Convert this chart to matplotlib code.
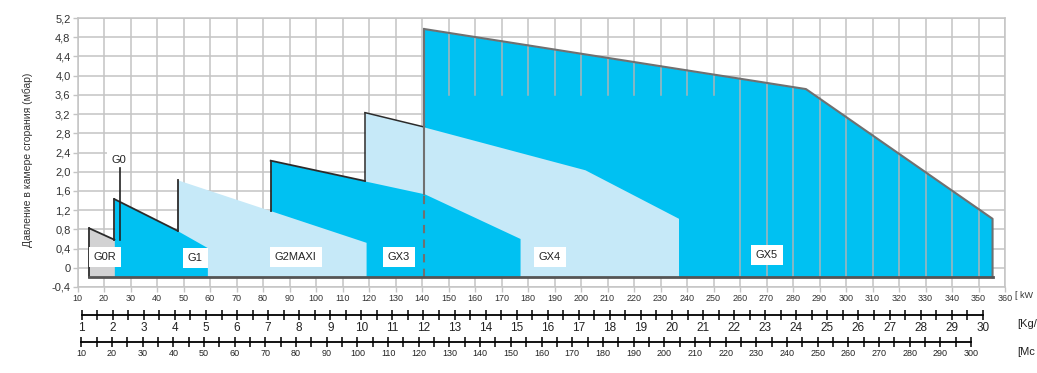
import numpy as np
import matplotlib
matplotlib.use('Agg')
import matplotlib.pyplot as plt
from matplotlib.ticker import FixedLocator

plt.rcParams['font.family'] = ['Liberation Sans', 'DejaVu Sans']

# ---------------- data ----------------
kw_ticks = list(range(10, 361, 10))
y_ticks = [-0.4, 0, 0.4, 0.8, 1.2, 1.6, 2.0, 2.4, 2.8, 3.2, 3.6, 4.0, 4.4, 4.8, 5.2]
y_ticklabels = ['-0,4', '0', '0,4', '0,8', '1,2', '1,6', '2,0', '2,4', '2,8',
                '3,2', '3,6', '4,0', '4,4', '4,8', '5,2']
kg_major = list(range(1, 31))
kg_minor = [v + 0.5 for v in range(1, 30)]
mc_major = list(range(10, 301, 10))
mc_minor = list(range(15, 300, 10))

baseline = -0.2

g0r_x = [14.5, 24.5]
g0r_y = [0.82, 0.57]
g0_x = [23.9, 47.8, 59.0]
g0_y = [1.43, 0.77, 0.42]
g1_x = [47.8, 118.9]
g1_y = [1.83, 0.53]
g2_x = [82.9, 140.9, 177.0]
g2_y = [2.23, 1.54, 0.61]
gx3_x = [118.5, 140.9, 201.5, 236.8]
gx3_y = [3.23, 2.93, 2.04, 1.03]
gx5_x = [140.9, 284.9, 355.3]
gx5_y = [4.97, 3.72, 1.02]

labels = ['G0R', 'G1', 'G2MAXI', 'GX3', 'GX4', 'GX5']
label_x = [20.4, 54.4, 92.4, 131.3, 188.2, 270.2]
label_y = [0.22, 0.21, 0.22, 0.22, 0.22, 0.26]

# grid lines that show through the GX5 field
gx5_grid_partial = list(range(150, 251, 10))
gx5_grid_partial_from = 3.6
gx5_grid_full = list(range(260, 351, 10))

BLUE = '#00c1f2'
LIGHT = '#c6e9f8'
GREY = '#d2d2d3'
GRID = '#c4c4c4'

# ---------------- figure ----------------
fig = plt.figure(figsize=(10.37, 3.73), dpi=100)
L, R = 77.5 / 1037, 1005 / 1037
B, T = 1 - 287 / 373, 1 - 18 / 373
ax = fig.add_axes([L, B, R - L, T - B])
ax.set_xlim(10, 360)
ax.set_ylim(-0.4, 5.2)

ax.set_xticks(kw_ticks)
ax.set_xticklabels([str(v) for v in kw_ticks], fontsize=6.5, color='#333333')
ax.set_yticks(y_ticks)
ax.set_yticklabels(y_ticklabels, fontsize=8, color='#333333')
ax.tick_params(axis='both', length=3.5, width=1.0, color=GRID, pad=1.5)
ax.grid(True, color=GRID, lw=1.1, zorder=0)
ax.set_axisbelow(True)
for s in ax.spines.values():
    s.set_color(GRID)
    s.set_linewidth(1.1)

# fills (back to front)
order = [
    (gx5_x, gx5_y, BLUE),
    (gx3_x, gx3_y, LIGHT),
    (g2_x, g2_y, BLUE),
    (g1_x, g1_y, LIGHT),
    (g0r_x, g0r_y, GREY),
    (g0_x, g0_y, BLUE),
]
for i, (xs, ys, c) in enumerate(order):
    ax.fill_between(xs, baseline, ys, color=c, lw=0, zorder=2 + i)

# grid lines through GX5
for gx in gx5_grid_partial:
    top = np.interp(gx, gx5_x, gx5_y)
    ax.plot([gx, gx], [gx5_grid_partial_from, top], color='#a9b4b9', lw=1.1, zorder=2.5)
for gx in gx5_grid_full:
    top = np.interp(gx, gx5_x, gx5_y)
    ax.plot([gx, gx], [baseline, top], color='#a9b4b9', lw=1.1, zorder=2.5)

# outlines (visible envelope)
EDGE = '#2b2b2b'
Z = 20
# G0R
ax.plot([g0r_x[0], g0r_x[0]], [baseline, g0r_y[0]], color=EDGE, lw=1.3, zorder=Z)
ax.plot([g0r_x[0], g0_x[0]], [g0r_y[0], np.interp(g0_x[0], g0r_x, g0r_y)],
        color=EDGE, lw=1.3, zorder=Z)
# G0
ax.plot([g0_x[0], g0_x[0]], [np.interp(g0_x[0], g0r_x, g0r_y), g0_y[0]], color=EDGE, lw=1.3, zorder=Z)
ax.plot(g0_x[:2], g0_y[:2], color=EDGE, lw=1.3, zorder=Z)
# G1 left edge
ax.plot([g1_x[0], g1_x[0]], [np.interp(g1_x[0], g0_x, g0_y), g1_y[0]], color=EDGE, lw=1.3, zorder=Z)
# G2
ax.plot([g2_x[0], g2_x[0]], [np.interp(g2_x[0], g1_x, g1_y), g2_y[0]], color=EDGE, lw=1.3, zorder=Z)
ax.plot([g2_x[0], gx3_x[0]], [g2_y[0], np.interp(gx3_x[0], g2_x, g2_y)], color=EDGE, lw=1.3, zorder=Z)
# GX3
ax.plot([gx3_x[0], gx3_x[0]], [np.interp(gx3_x[0], g2_x, g2_y), gx3_y[0]], color=EDGE, lw=1.1, zorder=Z)
ax.plot([gx3_x[0], gx5_x[0]], [gx3_y[0], np.interp(gx5_x[0], gx3_x, gx3_y)], color=EDGE, lw=1.1, zorder=Z)
# GX5
GX5E = '#707070'
y_split = np.interp(gx5_x[0], g2_x, g2_y)
ax.plot([gx5_x[0], gx5_x[0]], [y_split, gx5_y[0]], color=GX5E, lw=1.5, zorder=Z)
ax.plot([gx5_x[0], gx5_x[0]], [baseline, y_split], color=GX5E, lw=1.5, ls=(0, (4, 3)), zorder=Z)
ax.plot(gx5_x + [gx5_x[-1]], gx5_y + [baseline], color=GX5E, lw=1.5, zorder=Z)

# baseline
ax.plot([g0r_x[0], gx5_x[-1]], [baseline, baseline], color='#555555', lw=2, zorder=Z)

# labels
for t, lx, ly in zip(labels, label_x, label_y):
    ax.text(lx, ly, t, fontsize=8, color='#222222', ha='center', va='center', zorder=Z + 1,
            bbox=dict(boxstyle='square,pad=0.45', fc='white', ec='none'))

# G0 callout
ax.text(25.5, 2.25, 'G0', fontsize=8, color='#222222', ha='center', va='center', zorder=Z + 1,
        bbox=dict(boxstyle='square,pad=0.4', fc='white', ec='none'))
ax.plot([25.9, 25.9], [2.07, 0.58], color='#222222', lw=1.2, zorder=Z + 1)

# y axis title
fig.text(28 / 1037, 1 - 160 / 373, 'Давление в камере сгорания (мбар)', rotation=90,
         fontsize=7.5, color='#333333', ha='center', va='center')
fig.text(1015 / 1037, 1 - 296 / 373, '[ kW', fontsize=6.5, color='#333333', ha='left', va='center')

# Kg/h scale
px0, pxs = 81.7, 31.07
axk = fig.add_axes([L, 1 - 315 / 373, R - L, 0.0001])
axk.set_xlim(1 + (77.5 - px0) / pxs, 1 + (1005 - px0) / pxs)
axk.set_yticks([])
for s in ['left', 'right', 'top']:
    axk.spines[s].set_visible(False)
axk.spines['bottom'].set_bounds(1, 30)
axk.spines['bottom'].set_linewidth(1.3)
axk.patch.set_alpha(0)
axk.xaxis.set_major_locator(FixedLocator(kg_major))
axk.xaxis.set_minor_locator(FixedLocator(kg_minor))
axk.set_xticklabels([str(v) for v in kg_major], fontsize=8.5, color='#222222')
axk.tick_params(axis='x', which='both', direction='inout', length=7, width=1.1, pad=1.5)
fig.text(1017 / 1037, 1 - 324 / 373, '[Kg/', fontsize=8, color='#222222', ha='left', va='center')

# Mc/h scale
qx0, qxs = 81.3, 3.068
axm = fig.add_axes([L, 1 - 342.3 / 373, R - L, 0.0001])
axm.set_xlim(10 + (77.5 - qx0) / qxs, 10 + (1005 - qx0) / qxs)
axm.set_yticks([])
for s in ['left', 'right', 'top']:
    axm.spines[s].set_visible(False)
axm.spines['bottom'].set_bounds(10, 300)
axm.spines['bottom'].set_linewidth(1.3)
axm.patch.set_alpha(0)
axm.xaxis.set_major_locator(FixedLocator(mc_major))
axm.xaxis.set_minor_locator(FixedLocator(mc_minor))
axm.set_xticklabels([str(v) for v in mc_major], fontsize=6.5, color='#222222')
axm.tick_params(axis='x', which='both', direction='inout', length=7, width=1.1, pad=1.5)
fig.text(1017 / 1037, 1 - 352 / 373, '[Mc', fontsize=8, color='#222222', ha='left', va='center')

fig.savefig('out.png', dpi=100)
